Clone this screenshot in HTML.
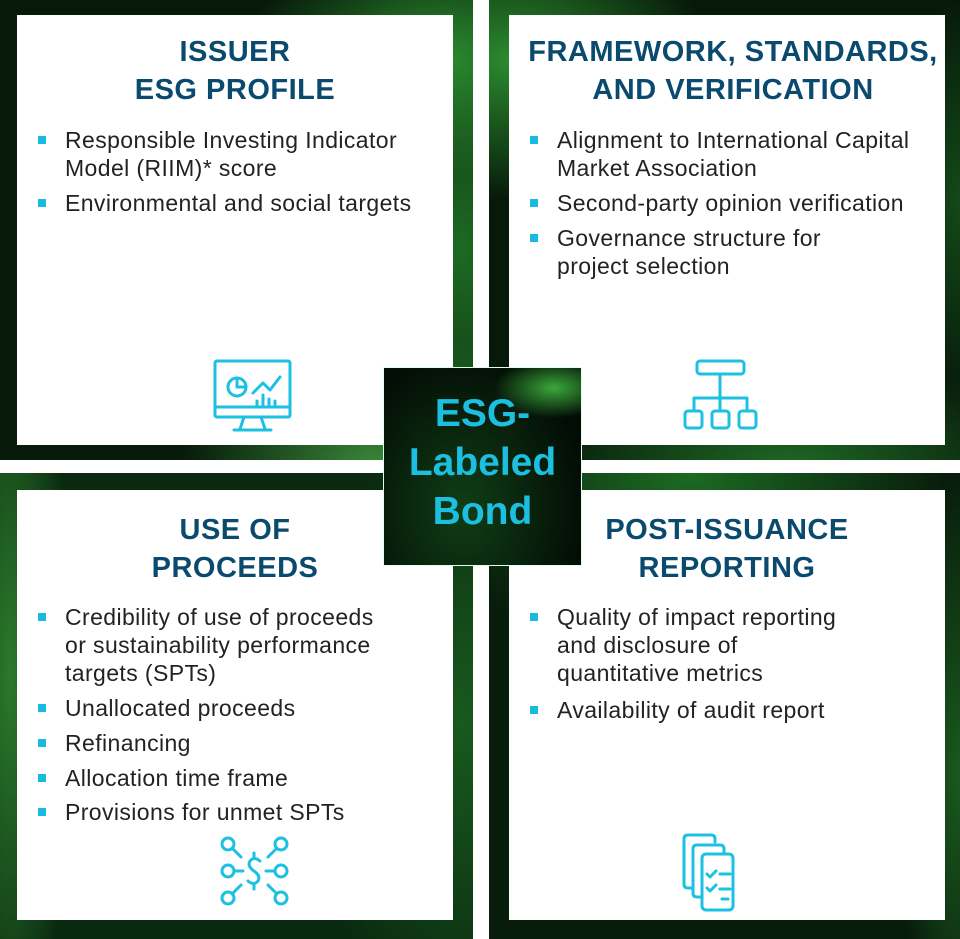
<!DOCTYPE html>
<html><head><meta charset="utf-8"><style>
*{margin:0;padding:0;box-sizing:border-box}
body{width:960px;height:939px;position:relative;overflow:hidden;background:#fff;font-family:"Liberation Sans",sans-serif}
.q{position:absolute;background:#0c2a12}
.box{position:absolute;background:#fff}
.t{position:absolute;left:0;right:0;text-align:center;color:#0b4a6f;font-weight:bold;font-size:29px;line-height:38px;letter-spacing:0.5px}
.b{position:absolute;font-size:23px;line-height:28px;color:#222;letter-spacing:0.4px;white-space:nowrap}
.b::before{content:"";position:absolute;left:-27px;top:10px;width:8px;height:8px;background:#1ab9df}
svg{position:absolute}
</style></head><body>
<div class="q" style="left:0;top:0;width:473px;height:460px;background:radial-gradient(ellipse 200px 120px at 440px 60px,#2b8a2e,transparent),radial-gradient(ellipse 200px 140px at 380px 470px,#3a8a3a,transparent),radial-gradient(ellipse 180px 300px at 460px 250px,#1d6a22,transparent),#071a0a"></div>
<div class="q" style="left:489px;top:0;width:471px;height:460px;background:radial-gradient(ellipse 200px 140px at 20px 60px,#2b8a2e,transparent),radial-gradient(ellipse 260px 120px at 300px 470px,#1f6a25,transparent),radial-gradient(ellipse 60px 200px at 470px 200px,#134a18,transparent),#071a0a"></div>
<div class="q" style="left:0;top:473px;width:473px;height:466px;background:radial-gradient(ellipse 60px 400px at 10px 200px,#2c7a2c,transparent),radial-gradient(ellipse 160px 300px at 460px 250px,#185a1e,transparent),#0a2a10"></div>
<div class="q" style="left:489px;top:473px;width:471px;height:466px;background:radial-gradient(ellipse 260px 200px at 200px 0px,#1c6a22,transparent),radial-gradient(ellipse 60px 300px at 470px 300px,#1a5a1e,transparent),#081c0b"></div>

<div class="box" style="left:17px;top:15px;width:436px;height:430px">
<div class="t" style="top:18px">ISSUER<br>ESG PROFILE</div>
<div class="b" style="left:48px;top:111px">Responsible Investing Indicator<br>Model (RIIM)* score</div>
<div class="b" style="left:48px;top:174px">Environmental and social targets</div>
</div>
<div class="box" style="left:509px;top:15px;width:436px;height:430px">
<div class="t" style="top:18px;left:6px;right:-6px">FRAMEWORK, STANDARDS,<br>AND VERIFICATION</div>
<div class="b" style="left:48px;top:111px">Alignment to International Capital<br>Market Association</div>
<div class="b" style="left:48px;top:174px">Second-party opinion verification</div>
<div class="b" style="left:48px;top:209px">Governance structure for<br>project selection</div>
</div>
<div class="box" style="left:17px;top:490px;width:436px;height:430px">
<div class="t" style="top:21px">USE OF<br>PROCEEDS</div>
<div class="b" style="left:48px;top:113px">Credibility of use of proceeds<br>or sustainability performance<br>targets (SPTs)</div>
<div class="b" style="left:48px;top:204px">Unallocated proceeds</div>
<div class="b" style="left:48px;top:239px">Refinancing</div>
<div class="b" style="left:48px;top:274px">Allocation time frame</div>
<div class="b" style="left:48px;top:308px">Provisions for unmet SPTs</div>
</div>
<div class="box" style="left:509px;top:490px;width:436px;height:430px">
<div class="t" style="top:21px">POST-ISSUANCE<br>REPORTING</div>
<div class="b" style="left:48px;top:113px">Quality of impact reporting<br>and disclosure of<br>quantitative metrics</div>
<div class="b" style="left:48px;top:206px">Availability of audit report</div>
</div>

<div style="position:absolute;left:383px;top:367px;width:199px;height:199px;background:radial-gradient(ellipse 60px 30px at 170px 20px,#3aa83a,transparent),radial-gradient(ellipse 120px 160px at 80px 140px,#103e16,transparent),#030d05;border:1px solid #dfe"></div>
<div style="position:absolute;left:383px;top:389px;width:199px;text-align:center;color:#1cbfdf;font-weight:bold;font-size:39px;line-height:49px">ESG-<br>Labeled<br>Bond</div>

<svg style="left:210px;top:355px" width="90" height="85" viewBox="0 0 90 85" fill="none" stroke="#1cc0e0" stroke-width="3" stroke-linecap="round" stroke-linejoin="round">
<rect x="5" y="6" width="75" height="56" rx="2"/><line x1="5" y1="52" x2="80" y2="52"/>
<path d="M34 62 L30 74 M51 62 L55 74 M24 75 H61"/>
<circle cx="27" cy="32" r="9"/><path d="M27 23 V32 H36"/>
<path d="M43 38 L53 28 L60 35 L70 22"/><path d="M47 50 V46 M53 50 V40 M59 50 V44 M65 50 V46"/>
</svg>
<svg style="left:680px;top:355px" width="85" height="80" viewBox="0 0 85 80" fill="none" stroke="#1cc0e0" stroke-width="3" stroke-linejoin="round">
<rect x="17" y="6" width="47" height="13" rx="3"/><path d="M40 19 V56 M14 56 V43 H67 V56"/>
<rect x="5" y="56" width="17" height="17" rx="3"/><rect x="32" y="56" width="17" height="17" rx="3"/><rect x="59" y="56" width="17" height="17" rx="3"/>
</svg>
<svg style="left:212px;top:828px" width="85" height="85" viewBox="0 0 85 85" fill="none" stroke="#1cc0e0" stroke-width="3" stroke-linecap="round">
<circle cx="16" cy="16" r="6"/><line x1="21" y1="21" x2="29" y2="29"/>
<circle cx="69" cy="16" r="6"/><line x1="64" y1="21" x2="56" y2="29"/>
<circle cx="16" cy="43" r="6"/><line x1="22" y1="43" x2="31" y2="43"/>
<circle cx="69" cy="43" r="6"/><line x1="63" y1="43" x2="54" y2="43"/>
<circle cx="16" cy="70" r="6"/><line x1="21" y1="65" x2="29" y2="57"/>
<circle cx="69" cy="70" r="6"/><line x1="64" y1="65" x2="56" y2="57"/>
<path d="M48 33 Q42 28 38 33 Q35 38 42 43 Q49 48 46 53 Q42 58 36 53 M42 25 V30 M42 56 V61"/>
</svg>
<svg style="left:678px;top:830px" width="75" height="85" viewBox="0 0 75 85" fill="none" stroke="#1cc0e0" stroke-width="3" stroke-linejoin="round" stroke-linecap="round">
<path d="M14 58 H10 Q6 58 6 54 V9 Q6 5 10 5 H33 Q37 5 37 9 V12"/>
<path d="M23 67 H19 Q15 67 15 63 V19 Q15 15 19 15 H42 Q46 15 46 19 V22"/>
<rect x="24" y="24" width="31" height="56" rx="4"/>
<path d="M29 44 L32 47 L38 41 M42 44 H52 M29 58 L32 61 L38 55 M42 59 H52 M44 69 H50"/>
</svg>
</body></html>
